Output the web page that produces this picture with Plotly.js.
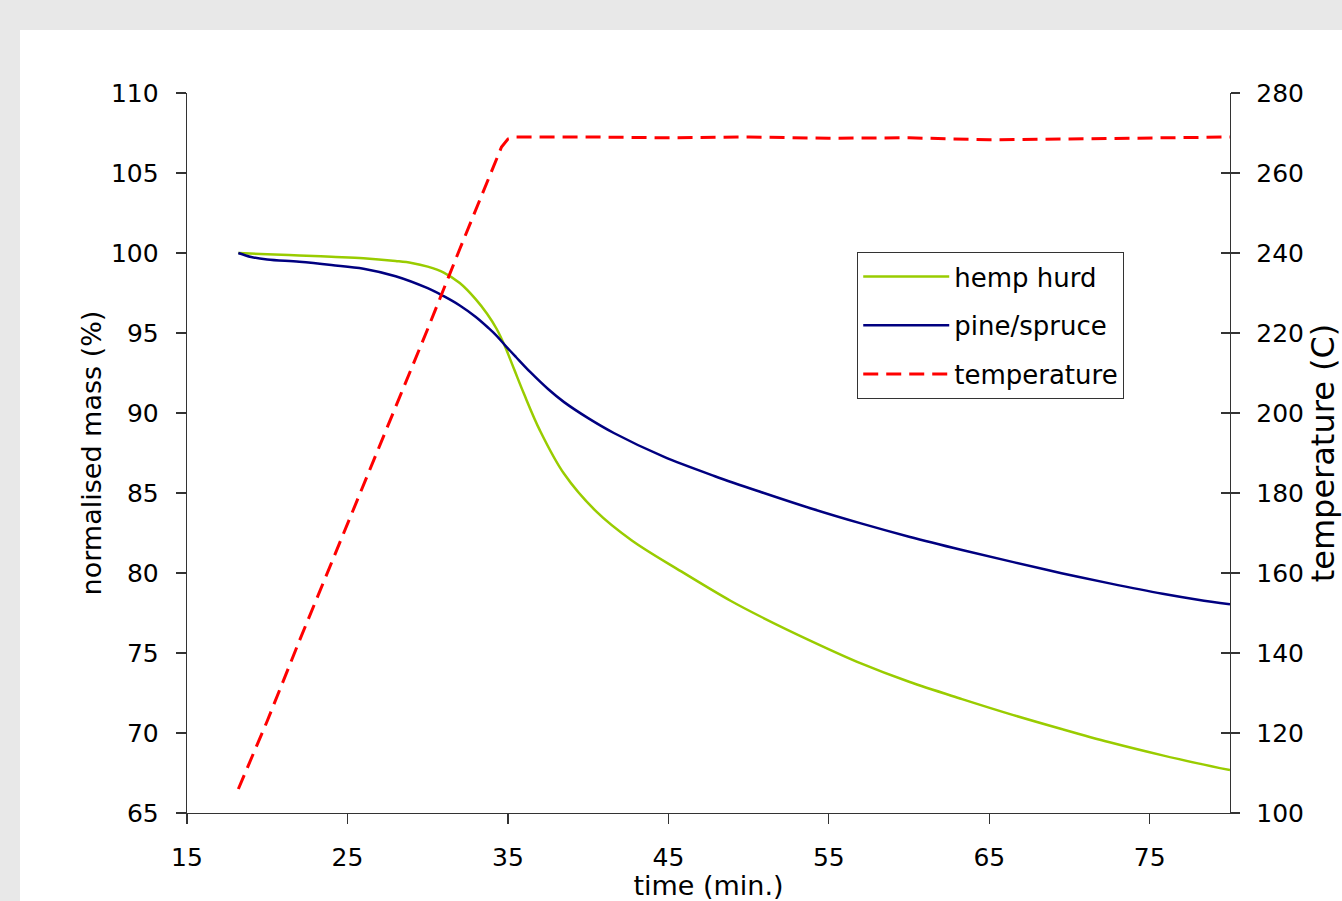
<!DOCTYPE html>
<html>
<head>
<meta charset="utf-8">
<script src="https://cdn.plot.ly/plotly-3.0.1.min.js"></script>
<style>
  html, body { margin: 0; padding: 0; width: 1342px; height: 901px; overflow: hidden;
    background: #e8e8e8; }
  #chart { position: absolute; left: 20px; top: 30px; width: 1322px; height: 871px; background: #fff; }
</style>
</head>
<body>
<div id="chart"></div>
<script>
// time (min.) and normalised mass (%)
const hempTime = [18.2, 20, 22, 24, 26, 28, 29, 30, 31, 32, 33, 33.7, 34.3, 34.8, 35.4, 36, 37, 38.5, 40.5, 42.7, 45.8, 48.9, 50.8, 54, 57, 60, 63.3, 66.5, 69.5, 72.5, 75.8, 78, 80];
const hempMass = [100, 99.92, 99.85, 99.76, 99.67, 99.5, 99.38, 99.15, 98.78, 98.12, 97.1, 96.2, 95.25, 94.2, 92.7, 91.2, 88.9, 86.2, 83.85, 82.05, 80.1, 78.25, 77.25, 75.7, 74.35, 73.2, 72.12, 71.12, 70.25, 69.42, 68.6, 68.1, 67.68];

const pineTime = [18.2, 19, 20, 22, 24, 26, 28, 30, 31, 32, 33, 33.8, 34.3, 34.85, 35.5, 36.4, 37.5, 38.5, 40, 41.6, 44.7, 47.9, 50.8, 54, 57, 60, 63.3, 66.5, 69.5, 72.5, 75.8, 78, 80];
const pineMass = [100, 99.75, 99.6, 99.45, 99.25, 99.02, 98.55, 97.8, 97.3, 96.72, 96.0, 95.3, 94.82, 94.2, 93.5, 92.55, 91.5, 90.68, 89.68, 88.75, 87.27, 86.05, 85.05, 84.0, 83.1, 82.27, 81.44, 80.68, 79.99, 79.35, 78.7, 78.33, 78.05];

// temperature (C)
const tempTime = [18.2, 20, 22, 24, 26, 28, 30, 32, 34, 34.6, 35, 35.5, 40, 45, 50, 55, 60, 65, 70, 75, 80];
const tempVal  = [106, 123, 143, 162.5, 182, 201.5, 221, 241, 261, 266.5, 268.5, 269, 269, 268.8, 269, 268.7, 268.8, 268.3, 268.5, 268.7, 269];

const xTicks = [15, 25, 35, 45, 55, 65, 75];

const FONT = "DejaVu Sans, Verdana, sans-serif";

const traces = [
  { x: hempTime, y: hempMass, name: 'hemp hurd', type: 'scatter', mode: 'lines',
    line: { color: '#99cc00', width: 2.5, shape: 'spline', smoothing: 1 }, legendgroup: 'a', yaxis: 'y' },
  { x: pineTime, y: pineMass, name: 'pine/spruce', type: 'scatter', mode: 'lines',
    line: { color: '#000080', width: 2.5, shape: 'spline', smoothing: 1 }, legendgroup: 'b', yaxis: 'y' },
  { x: tempTime, y: tempVal, name: 'temperature', type: 'scatter', mode: 'lines',
    line: { color: '#ff0000', width: 3, dash: '15px,8px' }, legendgroup: 'c', yaxis: 'y2' },
  { x: [], y: [], type: 'scatter', mode: 'lines', yaxis: 'y3', showlegend: false, hoverinfo: 'skip' }
];

const layout = {
  width: 1322, height: 871,
  margin: { l: 167, r: 112, t: 63, b: 88 },
  paper_bgcolor: '#ffffff', plot_bgcolor: '#ffffff',
  font: { family: FONT, size: 24, color: '#000' },
  showlegend: true,
  legend: {
    x: 0.6426, y: 0.779, xanchor: 'left', yanchor: 'top',
    bordercolor: '#333', borderwidth: 1, bgcolor: '#fff',
    font: { family: FONT, size: 26, color: '#000' },
    itemwidth: 86, tracegroupgap: 12, traceorder: 'grouped'
  },
  xaxis: {
    range: [15, 80], tickvals: xTicks, ticktext: xTicks.map(String),
    showgrid: false, zeroline: false, showline: true, linecolor: '#333', linewidth: 1.3,
    ticks: 'outside', ticklen: 10, tickcolor: '#333', tickwidth: 1.3,
    tickfont: { family: FONT, size: 25, color: '#000' }, ticklabelstandoff: 12,
    title: { text: 'time (min.)', font: { family: FONT, size: 27, color: '#000' }, standoff: 23 },
    automargin: false
  },
  yaxis: {
    range: [65, 110], dtick: 5, tick0: 65,
    showgrid: false, zeroline: false, showline: true, linecolor: '#333', linewidth: 1.3,
    ticks: 'outside', ticklen: 10, tickcolor: '#333', tickwidth: 1.3,
    tickfont: { family: FONT, size: 25, color: '#000' }, ticklabelstandoff: 12,
    title: { text: 'normalised mass (%)', font: { family: FONT, size: 27, color: '#000' }, standoff: 1 },
    automargin: false
  },
  yaxis2: {
    range: [100, 280], dtick: 20, tick0: 100, overlaying: 'y', side: 'right', anchor: 'x',
    showgrid: false, zeroline: false, showline: true, linecolor: '#333', linewidth: 1.3,
    ticks: 'outside', ticklen: 9, tickcolor: '#333', tickwidth: 1.3,
    tickfont: { family: FONT, size: 25, color: '#000' }, ticklabelstandoff: 11,
    title: { text: 'temperature (C)', font: { family: FONT, size: 32, color: '#000' }, standoff: 7 },
    automargin: false
  },
  yaxis3: {
    range: [100, 280], dtick: 20, tick0: 100, overlaying: 'y', side: 'right', anchor: 'x',
    showgrid: false, zeroline: false, showline: false, showticklabels: false,
    ticks: 'inside', ticklen: 9, tickcolor: '#333', tickwidth: 1.3
  }
};

Plotly.newPlot('chart', traces, layout, { displayModeBar: false, staticPlot: true });
</script>
</body>
</html>
